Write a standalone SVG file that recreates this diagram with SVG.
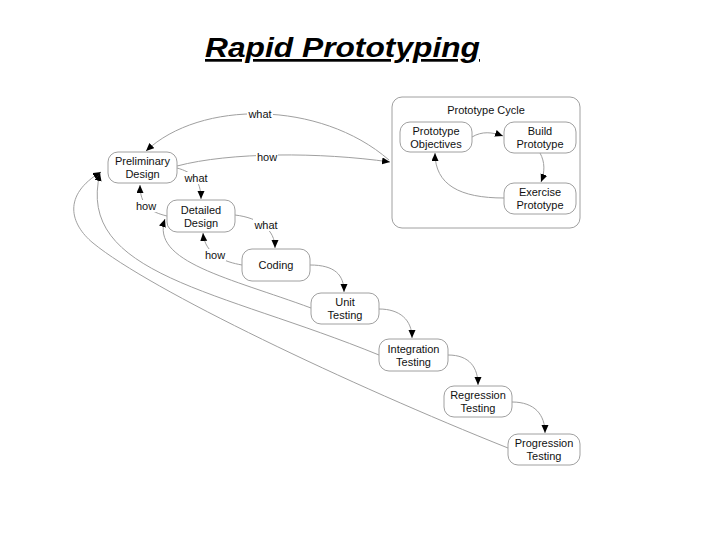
<svg xmlns="http://www.w3.org/2000/svg" width="720" height="540" viewBox="0 0 720 540">
<style>
.node rect{fill:#fff;stroke:#a0a0a0;stroke-width:1}
.node text,.lbl{font-family:"Liberation Sans",Arial,sans-serif;font-size:11px;fill:#111;text-anchor:middle}
.edge{fill:none;stroke:#a0a0a0;stroke-width:1;marker-end:url(#ah)}
.bg{fill:#fff;stroke:none}
.title{font-family:"Liberation Sans",Arial,sans-serif;font-size:27px;font-weight:bold;font-style:italic;fill:#000;text-decoration:underline}
</style>
<defs>
<marker id="ah" markerUnits="userSpaceOnUse" markerWidth="9" markerHeight="8" refX="8" refY="3.5" orient="auto">
<path d="M0,0 L8,3.5 L0,7 z" fill="#000"/>
</marker>
</defs>
<rect width="720" height="540" fill="#fff"/>
<text class="title" x="205" y="57" textLength="275" lengthAdjust="spacingAndGlyphs">Rapid Prototyping</text>

<g id="prototype-cycle" class="node">
<rect x="392" y="97" width="188" height="131" rx="10"/>
<text x="486" y="114">Prototype Cycle</text>
</g>

<g id="connectors">
<path class="edge" d="M389,160 C320,100 200,100 146,151"/>
<path class="edge" d="M177,166 C230,152 320,152 390,162"/>
<path class="edge" d="M177,168 C192,172 201,180 201,199"/>
<path class="edge" d="M167,216 C150,212 140,205 140,185"/>
<path class="edge" d="M235,215 C260,218 275,230 275,248"/>
<path class="edge" d="M242,265 C225,262 205,255 203,233"/>
<path class="edge" d="M310,265 C335,265 344,275 344,292"/>
<path class="edge" d="M379,309 C400,309 412,320 412,338"/>
<path class="edge" d="M448,355 C470,355 478,368 478,385"/>
<path class="edge" d="M512,402 C535,402 545,415 545,433"/>
<path class="edge" d="M472,137 C482,131 492,132 503,136"/>
<path class="edge" d="M540,153 C545,162 545,172 541,182"/>
<path class="edge" d="M504,198 C460,198 435,185 435,153"/>
<path class="edge" d="M311,308 C230,278 150,262 165,219"/>
<path class="edge" d="M379,355 C220,290 75,275 100,173"/>
<path class="edge" d="M508,448 C350,385 150,290 93,243 C70,224 62,195 101,172"/>
<rect class="bg" x="247" y="108" width="26" height="12"/>
<text class="lbl" x="260" y="118">what</text>
<rect class="bg" x="256" y="151" width="22" height="12"/>
<text class="lbl" x="267" y="161">how</text>
<rect class="bg" x="183" y="172" width="26" height="12"/>
<text class="lbl" x="196" y="182">what</text>
<rect class="bg" x="135" y="200" width="22" height="12"/>
<text class="lbl" x="146" y="210">how</text>
<rect class="bg" x="253" y="219" width="26" height="12"/>
<text class="lbl" x="266" y="229">what</text>
<rect class="bg" x="204" y="249" width="22" height="12"/>
<text class="lbl" x="215" y="259">how</text>
</g>

<g id="preliminary-design" class="node">
<rect x="108" y="152" width="69" height="31" rx="10"/>
<text x="142.5" y="165">Preliminary</text><text x="142.5" y="178">Design</text>
</g>
<g id="detailed-design" class="node">
<rect x="167" y="200" width="68" height="32" rx="10"/>
<text x="201" y="213.5">Detailed</text><text x="201" y="226.5">Design</text>
</g>
<g id="coding" class="node">
<rect x="242" y="249" width="68" height="32" rx="10"/>
<text x="276" y="269">Coding</text>
</g>
<g id="unit-testing" class="node">
<rect x="311" y="293" width="68" height="31" rx="10"/>
<text x="345" y="306">Unit</text><text x="345" y="319">Testing</text>
</g>
<g id="integration-testing" class="node">
<rect x="379" y="339" width="69" height="32" rx="10"/>
<text x="413.5" y="352.5">Integration</text><text x="413.5" y="365.5">Testing</text>
</g>
<g id="regression-testing" class="node">
<rect x="444" y="386" width="68" height="31" rx="10"/>
<text x="478" y="399">Regression</text><text x="478" y="412">Testing</text>
</g>
<g id="progression-testing" class="node">
<rect x="508" y="434" width="72" height="31" rx="10"/>
<text x="544" y="447">Progression</text><text x="544" y="460">Testing</text>
</g>
<g id="prototype-objectives" class="node">
<rect x="400" y="122" width="72" height="30" rx="10"/>
<text x="436" y="134.5">Prototype</text><text x="436" y="147.5">Objectives</text>
</g>
<g id="build-prototype" class="node">
<rect x="504" y="122" width="72" height="31" rx="10"/>
<text x="540" y="135">Build</text><text x="540" y="148">Prototype</text>
</g>
<g id="exercise-prototype" class="node">
<rect x="504" y="183" width="72" height="31" rx="10"/>
<text x="540" y="196">Exercise</text><text x="540" y="209">Prototype</text>
</g>
</svg>
